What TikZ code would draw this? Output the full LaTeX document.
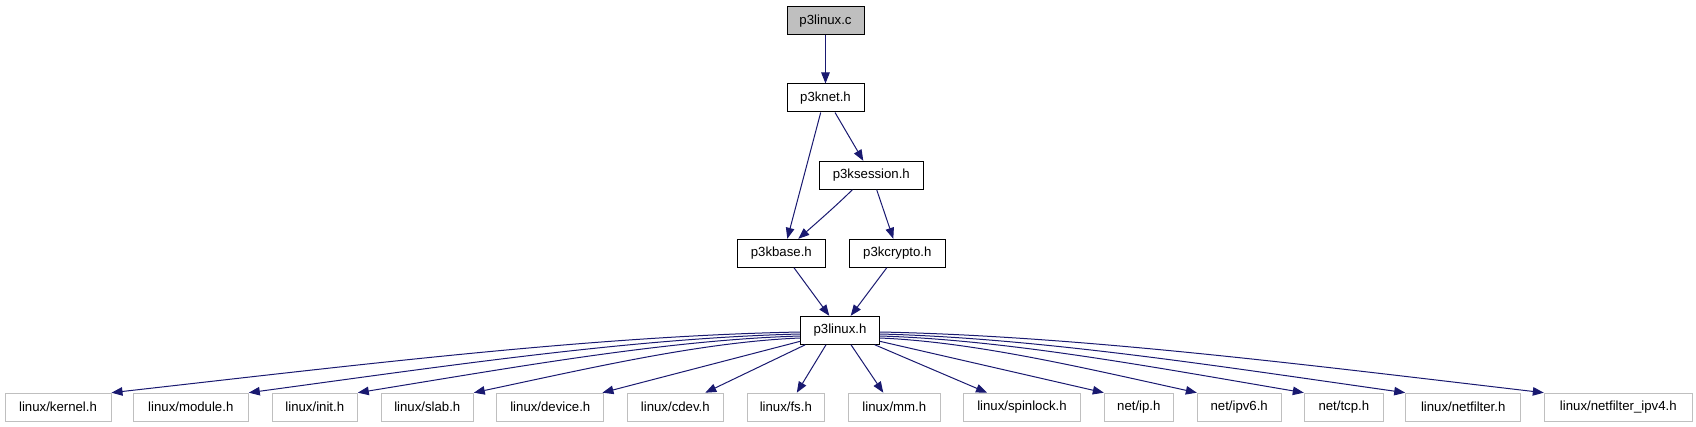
\documentclass[tikz,border=0pt]{standalone}
\usepackage{fontspec}
\setmainfont{Liberation Sans}
\usetikzlibrary{arrows.meta}
\definecolor{edgecol}{HTML}{191970}
\definecolor{boxgray}{HTML}{BFBFBF}
\begin{document}
\begin{tikzpicture}[x=1pt,y=-1pt,
  file/.style={draw=black, line width=1pt, inner sep=0pt, minimum height=28pt,
    font=\fontsize{13.2}{15}\selectfont, text=black},
  ext/.style={file, draw=boxgray},
  root/.style={file, fill=boxgray},
  edge/.style={draw=edgecol, line width=1pt, -{Triangle[length=11pt,width=8.5pt]}}]
\useasboundingbox (0,0) rectangle (1696,427);

% upper nodes
\node[root, minimum width=77pt] (c) at (825.5,21) {p3linux.c};
\node[file, minimum width=77pt] (knet) at (825.5,98) {p3knet.h};
\node[file, minimum width=104pt] (sess) at (871.3,175.3) {p3ksession.h};
\node[file, minimum width=88pt] (base) at (781.3,253.3) {p3kbase.h};
\node[file, minimum width=96pt] (crypto) at (897.3,253.3) {p3kcrypto.h};
\node[file, minimum width=78.6pt] (pl) at (840,330.3) {p3linux.h};

% bottom row
\node[ext, minimum width=106pt] (kernel) at (58,407.2) {linux/kernel.h};
\node[ext, minimum width=115pt] (module) at (190.8,407.2) {linux/module.h};
\node[ext, minimum width=85pt] (init) at (314.8,407.2) {linux/init.h};
\node[ext, minimum width=92pt] (slab) at (427.3,407.2) {linux/slab.h};
\node[ext, minimum width=107.3pt] (device) at (550.3,407.2) {linux/device.h};
\node[ext, minimum width=96pt] (cdev) at (675.3,407.2) {linux/cdev.h};
\node[ext, minimum width=77pt] (fs) at (785.8,407.2) {linux/fs.h};
\node[ext, minimum width=92pt] (mm) at (894.3,407.2) {linux/mm.h};
\node[ext, minimum width=117.4pt] (spin) at (1022,407.2) {linux/spinlock.h};
\node[ext, minimum width=69pt] (ip) at (1138.8,407.2) {net/ip.h};
\node[ext, minimum width=83.7pt] (ipv6) at (1239.2,407.2) {net/ipv6.h};
\node[ext, minimum width=79pt] (tcp) at (1343.8,407.2) {net/tcp.h};
\node[ext, minimum width=115pt] (nf) at (1463.2,407.2) {linux/netfilter.h};
\node[ext, minimum width=148pt] (nf4) at (1618.3,407.2) {linux/netfilter\_ipv4.h};

% upper edges
\draw[edge] (c.south) -- (knet.north);
\draw[edge] ([xshift=-4.8pt]knet.south) -- ([xshift=6pt]base.north);
\draw[edge] ([xshift=9.5pt]knet.south) -- ([xshift=-8pt]sess.north);
\draw[edge] ([xshift=-19pt]sess.south) .. controls +(-14,14) and +(16,-14) .. ([xshift=17pt]base.north);
\draw[edge] ([xshift=5.4pt]sess.south) -- ([xshift=-4pt]crypto.north);
\draw[edge] ([xshift=12.7pt]base.south) -- ([xshift=-10.7pt]pl.north);
\draw[edge] ([xshift=-10.6pt]crypto.south) -- ([xshift=10.7pt]pl.north);

% fan-out edges
\draw[edge] ([yshift=-1.7pt]pl.west) .. controls +(-207,4) and +(248,-28) .. (kernel.north east);
\draw[edge] ([yshift=-3.7pt]pl.west) .. controls +(-166,4) and +(199,-27) .. (module.north east);
\draw[edge] ([yshift=-5.7pt]pl.west) .. controls +(-133,4) and +(160,-26) .. (init.north east);
\draw[edge] ([yshift=-7.7pt]pl.west) .. controls +(-98,4) and +(118,-25) .. (slab.north east);
\draw[edge] ([yshift=-11pt]pl.west) -- ([xshift=-2pt]device.north east);
\draw[edge] ([xshift=5pt]pl.south west) -- ([xshift=30pt]cdev.north);
\draw[edge] ([xshift=-14pt]pl.south) -- ([xshift=11pt]fs.north);
\draw[edge] ([xshift=11pt]pl.south) -- ([xshift=-11pt]mm.north);
\draw[edge] ([xshift=-5pt]pl.south east) -- ([xshift=-35pt]spin.north);
\draw[edge] ([yshift=-11pt]pl.east) -- (ip.north west);
\draw[edge] ([yshift=-7.7pt]pl.east) .. controls +(95,4) and +(-114,-25) .. (ipv6.north west);
\draw[edge] ([yshift=-5.7pt]pl.east) .. controls +(128,4) and +(-153,-26) .. (tcp.north west);
\draw[edge] ([yshift=-3.7pt]pl.east) .. controls +(158,4) and +(-190,-27) .. (nf.north west);
\draw[edge] ([yshift=-1.7pt]pl.east) .. controls +(200,4) and +(-239,-28) .. (nf4.north west);
\end{tikzpicture}
\end{document}
